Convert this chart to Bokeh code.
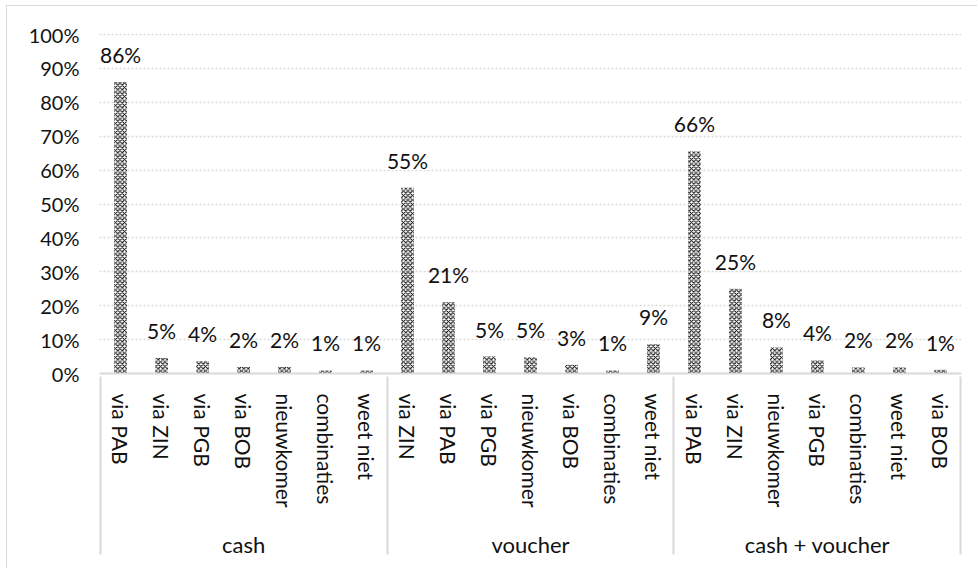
from bokeh.plotting import figure
from bokeh.models import ColumnDataSource, FactorRange, LabelSet, FixedTicker, NumeralTickFormatter
from bokeh.core.properties import value
from bokeh.embed import file_html
from bokeh.resources import INLINE

# ---- data ----
groups = ["cash", "voucher", "cash + voucher"]
cash_cats = ["via PAB", "via ZIN", "via PGB", "via BOB", "nieuwkomer", "combinaties", "weet niet"]
cash_vals = [0.86, 0.046, 0.036, 0.019, 0.019, 0.009, 0.009]
cash_lbls = ["86%", "5%", "4%", "2%", "2%", "1%", "1%"]
voucher_cats = ["via ZIN", "via PAB", "via PGB", "nieuwkomer", "via BOB", "combinaties", "weet niet"]
voucher_vals = [0.548, 0.21, 0.05, 0.048, 0.026, 0.009, 0.086]
voucher_lbls = ["55%", "21%", "5%", "5%", "3%", "1%", "9%"]
both_cats = ["via PAB", "via ZIN", "nieuwkomer", "via PGB", "combinaties", "weet niet", "via BOB"]
both_vals = [0.655, 0.25, 0.077, 0.039, 0.018, 0.018, 0.011]
both_lbls = ["66%", "25%", "8%", "4%", "2%", "2%", "1%"]
y_ticks = [0, 0.1, 0.2, 0.3, 0.4, 0.5, 0.6, 0.7, 0.8, 0.9, 1.0]

FONT = "Lato"
TXT = "#111111"
GREY = "#d9d9d9"

xs, tops, lbls = [], [], []
for g, cats, vals, lb in zip(groups, [cash_cats, voucher_cats, both_cats],
                             [cash_vals, voucher_vals, both_vals],
                             [cash_lbls, voucher_lbls, both_lbls]):
    for c, v, l in zip(cats, vals, lb):
        xs.append((g, c))
        tops.append(v)
        lbls.append(l)

# dummy outer groups only give the category axis its outer separator lines
factors = [(" ", " ")] + xs + [("  ", "  ")]
x_range = FactorRange(*factors, factor_padding=0, group_padding=0,
                      subgroup_padding=0, range_padding=-0.985,
                      range_padding_units="absolute")

src = ColumnDataSource(dict(x=xs, top=tops, lbl=lbls))

p = figure(x_range=x_range, y_range=(0, 1.003), width=971, height=563,
           output_backend="svg", toolbar_location=None,
           min_border_left=92, min_border_right=17, min_border_top=27,
           min_border_bottom=196)
p.outline_line_color = None
p.styles = {"border-left": "1px solid #d9d9d9", "border-top": "1px solid #d9d9d9",
            "margin-left": "6px", "margin-top": "5px"}

p.vbar(x="x", top="top", width=0.31, source=src, fill_color="white",
       line_color=None, hatch_pattern="diagonal_cross", hatch_color="black",
       hatch_scale=4.5, hatch_weight=1)

labels = LabelSet(x="x", y="top", text="lbl", source=src, y_offset=19,
                  text_align="center", text_baseline="alphabetic",
                  text_font=value(FONT), text_font_size=value("21px"),
                  text_color=TXT)
p.add_layout(labels)

# y axis
p.yaxis.ticker = FixedTicker(ticks=y_ticks)
p.yaxis.formatter = NumeralTickFormatter(format="0%")
p.yaxis.axis_line_color = None
p.yaxis.major_tick_line_color = None
p.yaxis.minor_tick_line_color = None
p.yaxis.major_tick_in = 0
p.yaxis.major_tick_out = 0
p.yaxis.major_label_standoff = 20
p.yaxis.major_label_text_font = FONT
p.yaxis.major_label_text_font_size = "20px"
p.yaxis.major_label_text_font_style = "normal"
p.yaxis.major_label_text_color = TXT

p.ygrid.grid_line_color = GREY
p.ygrid.grid_line_dash = "2 2"
p.ygrid.grid_line_width = 1.5
p.xgrid.grid_line_color = None

# x axis
ax = p.xaxis[0]
ax.axis_line_color = GREY
ax.axis_line_width = 2
ax.major_tick_line_color = None
ax.major_tick_in = 0
ax.major_tick_out = 0
ax.major_label_standoff = 20
ax.major_label_orientation = "vertical"
ax.major_label_text_font = FONT
ax.major_label_text_font_size = "21px"
ax.major_label_text_color = TXT
ax.group_text_font = FONT
ax.group_text_font_size = "22px"
ax.group_text_font_style = "normal"
ax.group_text_color = TXT
ax.group_label_orientation = "horizontal"
ax.separator_line_color = GREY
ax.separator_line_width = 2

open("out.html", "w").write(file_html(p, INLINE))
